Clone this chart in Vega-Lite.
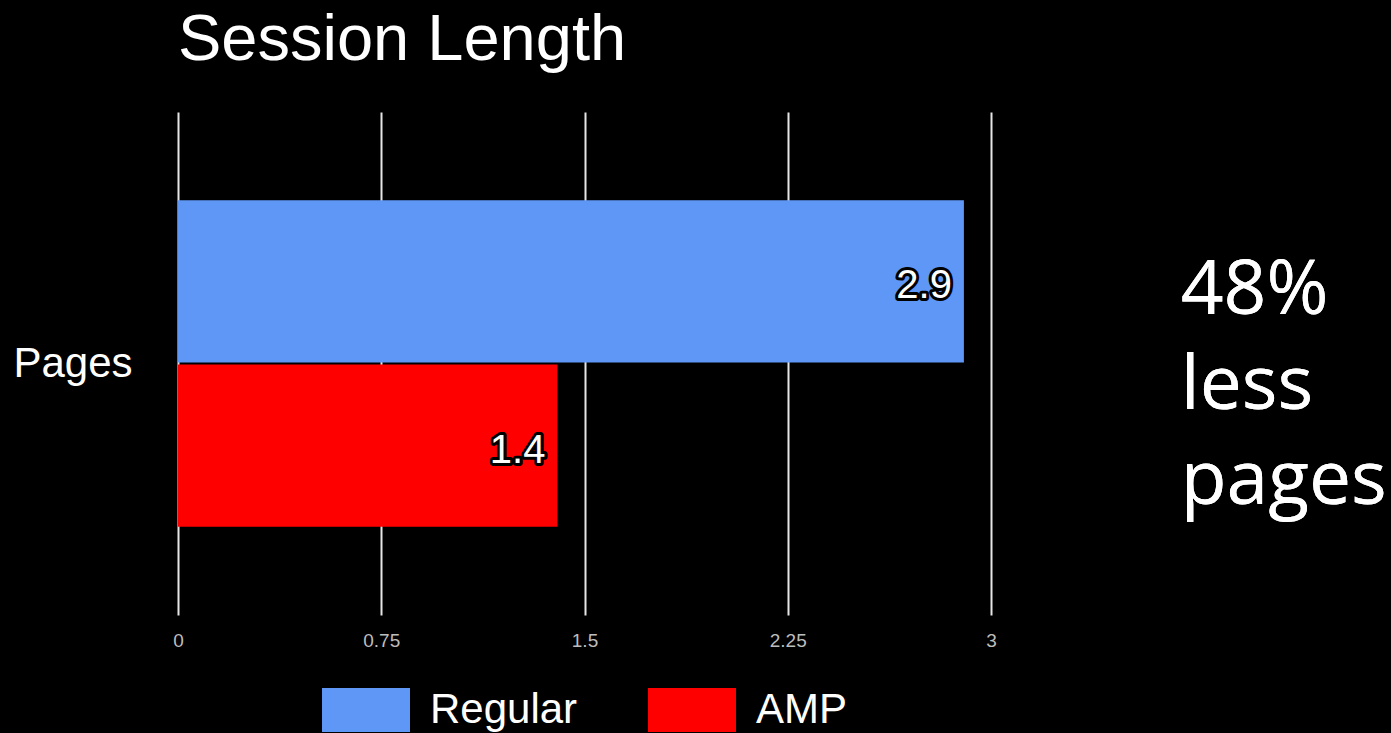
{
  "$schema": "https://vega.github.io/schema/vega-lite/v6.json",
  "width": 813,
  "height": 503,
  "autosize": {"type": "none"},
  "padding": {"left": 178, "top": 112, "right": 400, "bottom": 118},
  "background": "black",
  "config": {"view": {"stroke": null}, "font": "Liberation Sans"},
  "title": {"text": "Session Length", "anchor": "start", "frame": "group", "fontSize": 65, "fontWeight": "normal", "color": "white", "offset": 38, "font": "Liberation Sans"},
  "data": {"values": [
    {"metric": "Pages", "series": "Regular", "value": 2.9},
    {"metric": "Pages", "series": "AMP", "value": 1.4}
  ]},
  "encoding": {
    "y": {"field": "metric", "type": "nominal", "title": null,
      "scale": {"paddingInner": 0, "paddingOuter": 0.27},
      "axis": {"ticks": false, "domain": false, "labelFontSize": 42, "labelColor": "white", "labelPadding": 46, "labelFont": "Liberation Sans", "labelLimit": 300}},
    "x": {"field": "value", "type": "quantitative", "title": null,
      "scale": {"domain": [0, 3], "nice": false},
      "axis": {"values": [0, 0.75, 1.5, 2.25, 3], "format": ".3~g", "grid": true, "gridColor": "#e6e6e6", "gridWidth": 2, "domain": false, "ticks": false, "labelPadding": 16, "labelFontSize": 19, "labelFont": "Liberation Sans", "labelColor": "#bdbdbd", "labelFlush": false}}
  },
  "layer": [
    {
      "mark": {"type": "bar"},
      "encoding": {
        "yOffset": {"field": "series", "sort": ["Regular", "AMP"], "scale": {"paddingInner": 0.012}},
        "color": {"field": "series", "type": "nominal", "sort": ["Regular", "AMP"],
          "scale": {"domain": ["Regular", "AMP"], "range": ["#5f97f6", "#ff0000"]},
          "legend": {"title": null, "orient": "none", "legendX": 144, "legendY": 554, "direction": "horizontal", "symbolType": "M-1,-0.5H1V0.5H-1Z", "symbolSize": 7744, "symbolStrokeWidth": 0, "labelFontSize": 42, "labelColor": "white", "labelFont": "Liberation Sans", "labelOffset": 20, "columnPadding": 70, "labelLimit": 300}}
      }
    },
    {
      "mark": {"type": "text", "align": "right", "baseline": "middle", "dx": -12, "dy": 5, "fontSize": 40, "fill": "black", "stroke": "black", "strokeWidth": 6, "strokeJoin": "round", "font": "Liberation Sans"},
      "encoding": {
        "yOffset": {"field": "series", "sort": ["Regular", "AMP"], "scale": {"paddingInner": 0.012}},
        "text": {"field": "value", "type": "quantitative", "format": ".1f"}
      }
    },
    {
      "mark": {"type": "text", "align": "right", "baseline": "middle", "dx": -12, "dy": 5, "fontSize": 40, "fill": "white", "font": "Liberation Sans"},
      "encoding": {
        "yOffset": {"field": "series", "sort": ["Regular", "AMP"], "scale": {"paddingInner": 0.012}},
        "text": {"field": "value", "type": "quantitative", "format": ".1f"}
      }
    },
    {
      "mark": {"type": "text", "align": "left", "baseline": "alphabetic", "fontSize": 75, "font": "Open Sans", "lineHeight": 95, "fill": "white", "dy": -50},
      "encoding": {
        "x": {"datum": 3.7},
        "y": {"datum": "Pages"},
        "text": {"value": ["48%", "less", "pages"]}
      }
    }
  ]
}
